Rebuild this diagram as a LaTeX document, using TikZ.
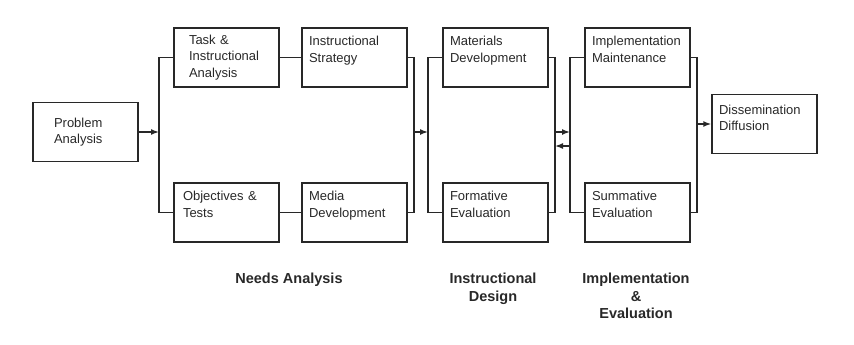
\documentclass[tikz,border=0pt]{standalone}
\usepackage{fontspec}
\setmainfont{Liberation Sans}
\usepackage{xcolor}
\usetikzlibrary{arrows.meta}
\definecolor{inkgray}{RGB}{40,40,40}

\begin{document}
\begin{tikzpicture}[x=1pt, y=-1pt, line width=1.5pt, color=inkgray,
  phasebox/.style={draw, rectangle, minimum width=105pt, minimum height=59pt,
    inner xsep=7pt, text width=91pt, align=left,
    font=\fontsize{13}{16.5}\selectfont},
  phaselabel/.style={align=center, font=\fontsize{14.5}{17.5}\selectfont\bfseries},
  flow/.style={-{Latex[length=8pt,width=6pt]}}]
\useasboundingbox (0,0) rectangle (854,345);
% boxes
\node[phasebox, inner xsep=21pt, text width=63pt] (prob) at (85.5,132) {Problem\\Analysis};
\node[phasebox, inner xsep=15pt, text width=75pt] (task) at (226.5,57.5) {Task \&\\Instructional\\Analysis};
\node[phasebox, inner xsep=9pt, text width=87pt] (objt) at (226.5,212.5) {Objectives \&\\Tests\\~};
\node[phasebox] (strat) at (354.5,57.5) {Instructional\\Strategy\\~};
\node[phasebox] (media) at (354.5,212.5) {Media\\Development\\~};
\node[phasebox] (matl) at (495.5,57.5) {Materials\\Development\\~};
\node[phasebox] (form) at (495.5,212.5) {Formative\\Evaluation\\~};
\node[phasebox] (impl) at (637.5,57.5) {Implementation\\Maintenance\\~};
\node[phasebox] (summ) at (637.5,212.5) {Summative\\Evaluation\\~};
\node[phasebox] (diss) at (764.5,124) {Dissemination\\Diffusion\\[-4pt]~};
% bracket joints
\coordinate (na) at (159,132);
\coordinate (nb) at (414,132);
\coordinate (nc) at (428,132);
\coordinate (nd) at (555,132);
\coordinate (ne) at (570,132);
\coordinate (nd2) at (555,146);
\coordinate (ne2) at (570,146);
\coordinate (nf) at (697,124);
% connectors
\draw[flow] (prob.east) -- (na);
\draw (task.west) -| (na) |- (objt.west);
\draw (task) -- (strat);
\draw (objt) -- (media);
\draw (strat.east) -| (nb) |- (media.east);
\draw[flow] (nb) -- (nc);
\draw (matl.west) -| (nc) |- (form.west);
\draw (matl.east) -| (nd) |- (form.east);
\draw (impl.west) -| (ne) |- (summ.west);
\draw[flow] (nd) -- (ne);
\draw[flow] (ne2) -- (nd2);
\draw (impl.east) -| (nf) |- (summ.east);
\draw[flow] (nf) -- (diss.west);
% phase labels
\node[phaselabel, anchor=north] (lbneed) at (289,269) {Needs Analysis};
\node[phaselabel, anchor=north] (lbdesign) at (493,269) {Instructional\\Design};
\node[phaselabel, anchor=north] (lbimpl) at (636,269) {Implementation\\\&\\Evaluation};
\end{tikzpicture}
\end{document}
